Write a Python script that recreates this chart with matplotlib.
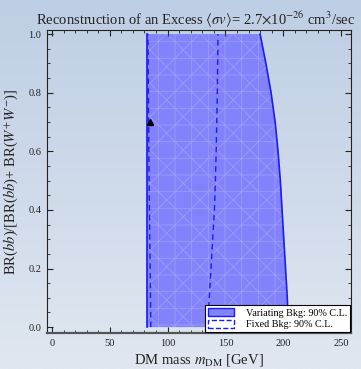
import numpy as np
import matplotlib
matplotlib.use("Agg")
import matplotlib.pyplot as plt
from matplotlib.patches import Patch
from matplotlib.ticker import MultipleLocator

plt.rcParams['font.family'] = ['Liberation Serif', 'DejaVu Serif']
plt.rcParams['mathtext.fontset'] = 'stix'
plt.rcParams['hatch.linewidth'] = 0.6

# 90% C.L. region, variating background: left and right mass boundaries vs branching ratio
br_levels = [0.0, 0.1, 0.2, 0.3, 0.4, 0.5, 0.6, 0.7, 0.8, 0.9, 1.0]
var_left = [82.0, 82.0, 82.0, 82.0, 82.0, 82.0, 82.0, 82.0, 82.0, 82.0, 82.0]
var_right = [204.5, 203.5, 202.0, 200.5, 199.0, 197.5, 195.5, 193.0, 189.5, 185.0, 180.0]

# 90% C.L. region, fixed background
fix_left = [85.5, 85.2, 84.9, 84.6, 84.3, 84.0, 83.8, 83.6, 83.4, 83.2, 83.0]
fix_right = [134.5, 136.0, 137.5, 139.0, 140.5, 141.3, 142.0, 142.5, 143.0, 143.3, 143.6]

# injected signal point
true_mass = [85.0]
true_br = [0.70]

fig = plt.figure(figsize=(3.61, 3.69), dpi=100)

# vertical gradient background
bg = fig.add_axes([0, 0, 1, 1], zorder=-10)
top = np.array([190, 206, 228]) / 255
bot = np.array([224, 231, 240]) / 255
t = np.linspace(0, 1, 256)[:, None]
grad = (top[None, :] * (1 - t) + bot[None, :] * t)[:, None, :]
bg.imshow(grad, aspect='auto', extent=[0, 1, 0, 1])
bg.set_axis_off()

ax = fig.add_axes([47 / 361, 1 - 333 / 369, (351 - 47) / 361, (333 - 30) / 369])
ax.patch.set_alpha(0)

ax.fill_betweenx(br_levels, var_left, var_right, facecolor='#8282fa',
                 edgecolor='none', zorder=1)
ax.fill_betweenx(br_levels, var_left, var_right, facecolor='none',
                 edgecolor=(1, 1, 1, 0.2), linewidth=0, hatch='x+', zorder=2)
ax.plot(var_left, br_levels, color='#1a1aff', lw=1.2, zorder=3)
ax.plot(var_right, br_levels, color='#1a1aff', lw=1.2, zorder=3)

ax.plot(fix_left, br_levels, color='#1a1aff', lw=1.0, ls=(0, (4, 3)), zorder=4)
ax.plot(fix_right, br_levels, color='#1a1aff', lw=1.0, ls=(0, (4, 3)), zorder=4)

ax.plot(true_mass, true_br, marker='^', color='black', ms=5, ls='none', zorder=5)

ax.set_xlim(-4.3, 258.6)
ax.set_ylim(-0.02, 1.014)
ax.xaxis.set_major_locator(MultipleLocator(50))
ax.xaxis.set_minor_locator(MultipleLocator(10))
ax.yaxis.set_major_locator(MultipleLocator(0.2))
ax.yaxis.set_minor_locator(MultipleLocator(0.05))
ax.yaxis.set_major_formatter(matplotlib.ticker.FormatStrFormatter('%.1f'))
ax.tick_params(which='both', direction='in', top=True, right=True,
               labelsize=7.5, colors='#222222', pad=4)
ax.tick_params(which='major', length=4, width=0.8)
ax.tick_params(which='minor', length=2, width=0.6)
for side in ['left', 'right', 'top']:
    ax.spines[side].set_color('#222222')
    ax.spines[side].set_linewidth(0.8)
ax.spines['bottom'].set_color('#555555')
ax.spines['bottom'].set_linewidth(1.6)

ax.set_xlabel(r'DM mass $m_{\rm DM}$ [GeV]', fontsize=10.5, color='#222222', labelpad=3)
ax.set_ylabel(r'BR($b\bar{b}$)/[BR($b\bar{b}$)+ BR($W^{+}W^{-}$)]',
              fontsize=10.5, color='#222222', labelpad=6)
ax.set_title(r'Reconstruction of an Excess $\langle\sigma v\rangle$= 2.7$\times$10$^{-26}$ cm$^{3}$/sec',
             fontsize=10.5, color='#222222', pad=4, x=0.49)

handles = [
    Patch(facecolor='#8282fa', edgecolor='#1a1aff', linewidth=1.0,
          label='Variating Bkg: 90% C.L.'),
    Patch(facecolor='white', edgecolor='#1a1aff', linewidth=1.0, linestyle='--',
          label='Fixed Bkg: 90% C.L.'),
]
leg = ax.legend(handles=handles, loc='lower right', fontsize=7.3, frameon=True,
                fancybox=False, edgecolor='black', framealpha=1,
                borderaxespad=0.1, handlelength=2.6, handleheight=0.9,
                labelspacing=0.2, borderpad=0.25, handletextpad=1.2)
leg.get_frame().set_linewidth(0.8)

fig.savefig('out.png', dpi=100)
